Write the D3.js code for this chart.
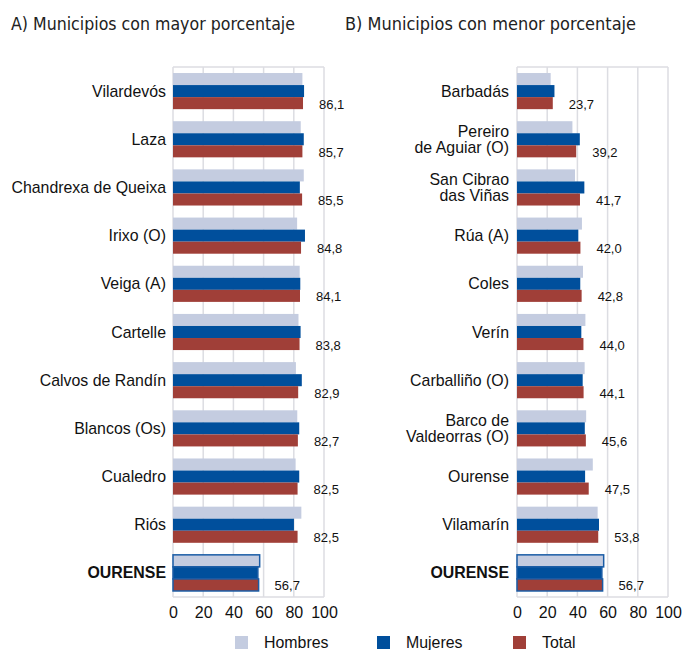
<!DOCTYPE html>
<html>
<head>
<meta charset="utf-8">
<script src="https://d3js.org/d3.v7.min.js"></script>
<style>
body { margin: 0; background: #fff; }
svg { display: block; font-family: "Liberation Sans", Arial, sans-serif; }
.title { font-family: "Liberation Sans Narrow", "DejaVu Sans Condensed", sans-serif; font-size: 18px; fill: #222; }
.cat { font-size: 15.9px; fill: #111; }
.val { font-size: 13px; fill: #111; }
.tick text { font-size: 16px; fill: #111; }
.grid line { stroke: #dcdde2; stroke-width: 1.5; }
</style>
</head>
<body>
<svg width="683" height="650"></svg>
<script>
var series = ["Hombres", "Mujeres", "Total"];
var colors = ["#c4cce0", "#004f9c", "#a03f38"];
var ticks = [0, 20, 40, 60, 80, 100];

// A) mayor porcentaje
var leftCats = ["Vilardevós", "Laza", "Chandrexa de Queixa", "Irixo (O)", "Veiga (A)", "Cartelle",
                "Calvos de Randín", "Blancos (Os)", "Cualedro", "Riós", "OURENSE"];
var leftHombres = [85.7, 84.6, 86.6, 82.2, 83.9, 83.1, 81.4, 82.3, 81.2, 85.0, 57.4];
var leftMujeres = [86.8, 86.6, 84.0, 87.4, 84.3, 84.5, 85.3, 83.6, 83.6, 80.1, 56.2];
var leftTotal   = [86.1, 85.7, 85.5, 84.8, 84.1, 83.8, 82.9, 82.7, 82.5, 82.5, 56.7];

// B) menor porcentaje
var rightCats = ["Barbadás", "Pereiro\nde Aguiar (O)", "San Cibrao\ndas Viñas", "Rúa (A)", "Coles", "Verín",
                 "Carballiño (O)", "Barco de\nValdeorras (O)", "Ourense", "Vilamarín", "OURENSE"];
var rightHombres = [22.3, 36.7, 38.4, 43.0, 43.7, 45.3, 44.8, 45.8, 50.2, 53.4, 57.4];
var rightMujeres = [24.8, 41.6, 44.6, 40.6, 41.9, 42.6, 43.5, 44.9, 45.1, 54.3, 56.2];
var rightTotal   = [23.7, 39.2, 41.7, 42.0, 42.8, 44.0, 44.1, 45.6, 47.5, 53.8, 56.7];

var svg = d3.select("svg");
var plotTop = 67, plotBottom = 597;
var fmt = function (v) { return d3.format(".1f")(v).replace(".", ","); };

function drawPanel(cats, hom, muj, tot, x0, x1, title, titleX, titleW, labelX) {
	var g = svg.append("g");
	var x = d3.scaleLinear().domain([0, 100]).range([x0, x1]);
	var y = d3.scaleBand().domain(cats).range([plotTop, plotBottom]).paddingInner(0.25).paddingOuter(0.125);
	var ys = d3.scaleBand().domain(series).range([0, y.bandwidth()]);
	var color = d3.scaleOrdinal().domain(series).range(colors);

	g.append("text").attr("class", "title").attr("x", titleX).attr("y", 30)
		.attr("textLength", titleW).attr("lengthAdjust", "spacingAndGlyphs").text(title);

	// grid + frame
	var grid = g.append("g").attr("class", "grid");
	grid.selectAll("line.v").data(ticks).enter().append("line").attr("class", "v")
		.attr("x1", x).attr("x2", x).attr("y1", plotTop).attr("y2", plotBottom);
	grid.append("line").attr("x1", x0).attr("x2", x1).attr("y1", plotTop).attr("y2", plotTop);
	grid.append("line").attr("x1", x0).attr("x2", x1).attr("y1", plotBottom).attr("y2", plotBottom);

	var rows = cats.map(function (c, i) {
		return { cat: c, vals: [hom[i], muj[i], tot[i]], total: tot[i], bold: c === "OURENSE" };
	});

	var row = g.selectAll("g.row").data(rows).enter().append("g").attr("class", "row")
		.attr("transform", function (d) { return "translate(0," + y(d.cat) + ")"; });

	row.selectAll("rect").data(function (d) {
		return d.vals.map(function (v, j) { return { s: series[j], v: v, bold: d.bold }; });
	}).enter().append("rect")
		.attr("x", x(0))
		.attr("y", function (d) { return ys(d.s); })
		.attr("width", function (d) { return x(d.v) - x(0); })
		.attr("height", ys.bandwidth())
		.attr("fill", function (d) { return color(d.s); })
		.attr("stroke", function (d) { return d.bold ? "#1a5ca6" : "none"; })
		.attr("stroke-width", 1.5);

	row.append("text").attr("class", "val")
		.attr("x", function (d) { return x(d.total) + 16; })
		.attr("y", ys("Total") + ys.bandwidth() / 2 + 1)
		.attr("dy", "0.35em")
		.text(function (d) { return fmt(d.total); });

	var lab = row.append("text").attr("class", "cat")
		.attr("text-anchor", "end")
		.style("font-weight", function (d) { return d.bold ? "bold" : null; })
		.attr("y", y.bandwidth() / 2);
	lab.each(function (d) {
		var lines = d.cat.split("\n");
		var t = d3.select(this);
		lines.forEach(function (l, k) {
			t.append("tspan").attr("x", labelX)
				.attr("dy", k === 0 ? (0.35 - (lines.length - 1) * 0.52) + "em" : "1.04em")
				.text(l);
		});
	});

	var axis = d3.axisBottom(x).tickValues(ticks).tickSize(0).tickPadding(9).tickFormat(d3.format("d"));
	g.append("g").attr("transform", "translate(0," + (plotBottom + 1) + ")").call(axis)
		.call(function (a) { a.select(".domain").remove(); });
}

drawPanel(leftCats, leftHombres, leftMujeres, leftTotal, 173, 324,
	"A) Municipios con mayor porcentaje", 11, 284, 166);
drawPanel(rightCats, rightHombres, rightMujeres, rightTotal, 517, 668,
	"B) Municipios con menor porcentaje", 345, 291, 509);

// legend
var legX = [235, 377, 513];
var leg = svg.selectAll("g.leg").data(series).enter().append("g").attr("class", "leg")
	.attr("transform", function (d, i) { return "translate(" + legX[i] + ",636)"; });
leg.append("rect").attr("width", 13).attr("height", 13).attr("fill", function (d, i) { return colors[i]; });
leg.append("text").attr("class", "cat").attr("x", 29).attr("y", 12).text(function (d) { return d; });
</script>
</body>
</html>
